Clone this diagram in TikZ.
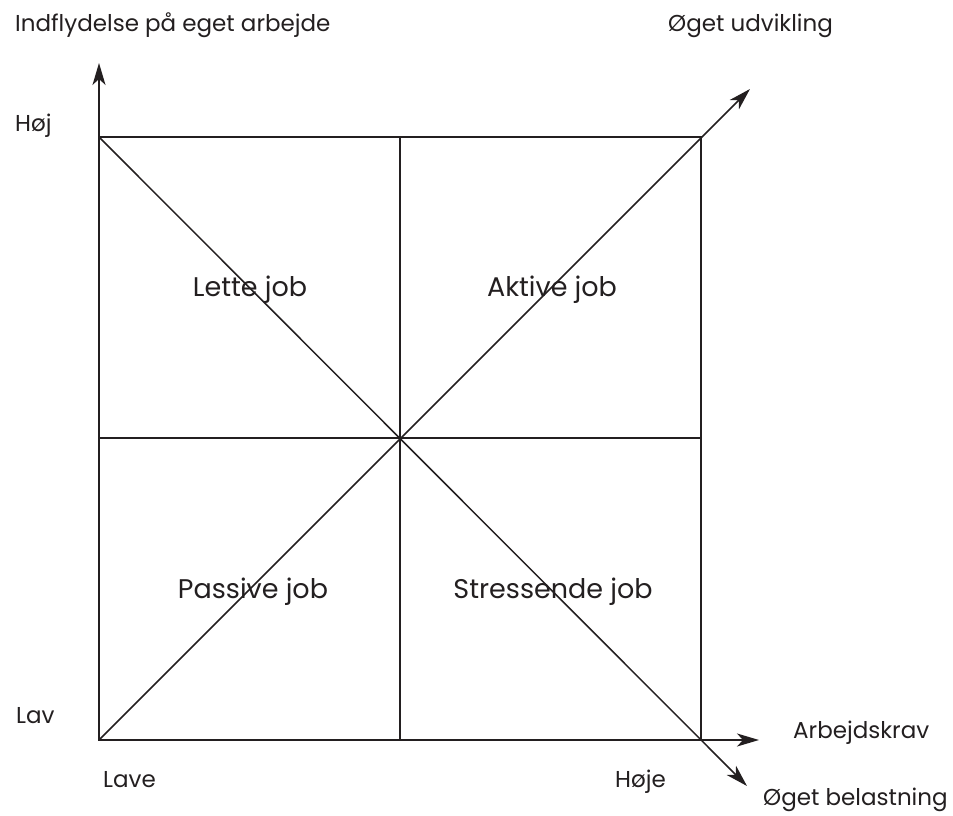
\documentclass[tikz,border=0pt]{standalone}
\usepackage{fontspec}
\setmainfont{Poppins}
\usepackage{tikz}
\usetikzlibrary{arrows.meta}
\definecolor{ink}{HTML}{231F20}
\tikzset{
  gridline/.style = {ink,line width=1.5pt},
  axisarr/.style  = {-{Stealth[length=22pt,width=13pt,inset=6pt]},ink,line width=1.5pt},
  axislabel/.style = {anchor=base west,inner sep=0pt,ink,font=\fontsize{23}{27}\selectfont},
  quadlabel/.style = {inner sep=0pt,ink,font=\fontsize{27}{32}\selectfont}
}
\begin{document}
\begin{tikzpicture}[x=1pt,y=-1pt]
  \useasboundingbox (0,0) rectangle (953,816);
  \coordinate (sw) at (99,740);
  \coordinate (nw) at (99,137);
  \coordinate (ne) at (701,137);
  \coordinate (se) at (701,740);
  \coordinate (n)  at (400,137);
  \coordinate (s)  at (400,740);
  \coordinate (w)  at (99,438);
  \coordinate (e)  at (701,438);
  \coordinate (ytip)  at (99,63);
  \coordinate (xtip)  at (759,740);
  \coordinate (uptip) at (750,89);
  \coordinate (dntip) at (747,786);
  % square and cross
  \draw[gridline] (nw) rectangle (se);
  \draw[gridline] (n) -- (s);
  \draw[gridline] (w) -- (e);
  % axes and diagonals
  \draw[axisarr] (sw) -- (ytip);
  \draw[axisarr] (sw) -- (xtip);
  \draw[axisarr] (sw) -- (uptip);
  \draw[axisarr] (nw) -- (dntip);
  \node[axislabel] (yname) at (15,32)  {Indflydelse på eget arbejde};
  \node[axislabel] (uname) at (668,32) {Øget udvikling};
  \node[axislabel] (hoj)   at (15,131) {Høj};
  \node[axislabel] (lav)   at (16,723) {Lav};
  \node[axislabel] (lave)  at (103,787) {Lave};
  \node[axislabel] (hoje)  at (615,787) {Høje};
  \node[axislabel] (xname) at (793,738) {Arbejdskrav};
  \node[axislabel] (dname) at (763,805) {Øget belastning};
  \node[quadlabel] (lette)  at (250,290) {Lette job};
  \node[quadlabel] (aktive) at (552,290) {Aktive job};
  \node[quadlabel] (passiv) at (253,592) {Passive job};
  \node[quadlabel] (stress) at (553,592) {Stressende job};
\end{tikzpicture}
\end{document}
